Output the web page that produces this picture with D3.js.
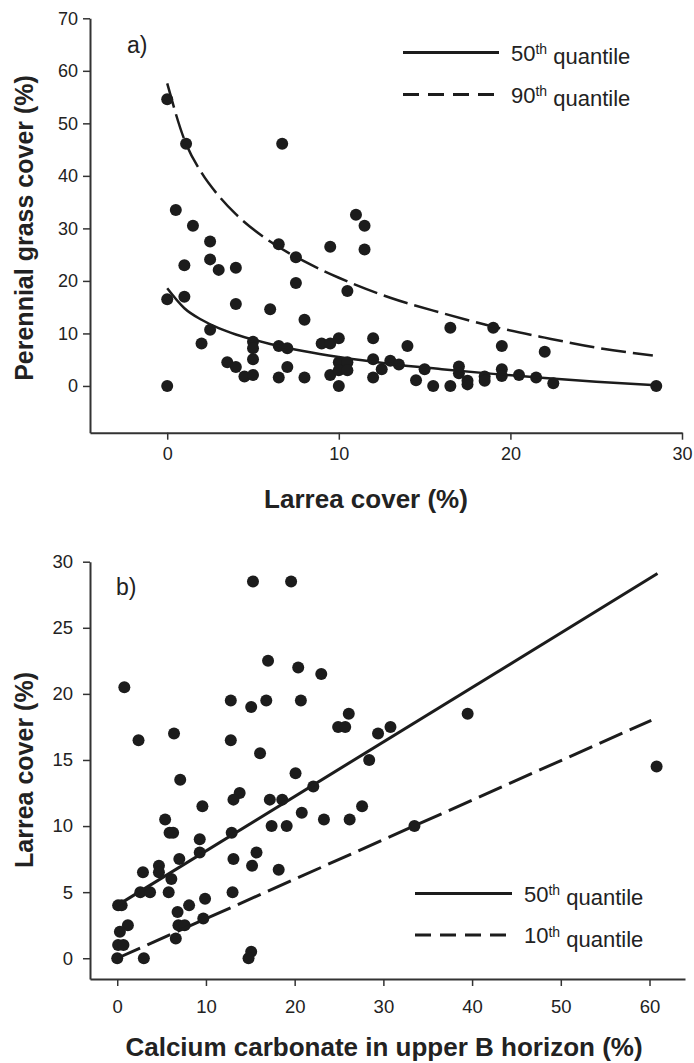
<!DOCTYPE html>
<html>
<head>
<meta charset="utf-8">
<script src="https://cdn.jsdelivr.net/npm/d3@7"></script>
<style>
  body { margin: 0; background: #fff; }
  svg { display: block; font-family: "Liberation Sans", Arial, sans-serif; }
</style>
</head>
<body>
<div id="chart"></div>
<script>
// panel a: Larrea cover vs perennial grass cover
const larreaA = [0, 1.1, 6.7, 0.5, 1.5, 2.5, 1.0, 2.5, 3.0, 4.0, 6.5, 7.5, 9.5, 11, 11.5, 11.5, 7.5, 10.5, 0, 1.0,
  4.0, 6.0, 8.0, 2.5, 2.0, 5.0, 5.0, 5.0, 6.5, 7.0, 9.0, 9.5, 10.0, 12.0, 14.0, 3.5, 4.0, 4.5, 5.0, 7.0,
  6.5, 8.0, 9.5, 10.0, 10.0, 10.5, 10.0, 10.5, 12.0, 12.5, 13.0, 13.5, 12.0, 15.0, 14.5, 15.5, 0, 16.5, 19.0, 19.5,
  22.0, 16.5, 17.0, 17.0, 17.5, 17.5, 18.5, 18.5, 19.5, 19.5, 20.5, 21.5, 22.5, 28.5];
const grassA = [54.6, 46.1, 46.1, 33.5, 30.5, 27.5, 23, 24.1, 22.1, 22.5, 27, 24.5, 26.5, 32.6, 30.5, 26, 19.6, 18.1, 16.5, 17,
  15.6, 14.6, 12.6, 10.7, 8.1, 8.4, 7.2, 5.1, 7.6, 7.2, 8.1, 8.1, 9.1, 9.1, 7.6, 4.5, 3.6, 1.8, 2.1, 3.6,
  1.6, 1.6, 2.1, 0, 4.5, 4.5, 3.0, 3.0, 5.1, 3.2, 4.8, 4.1, 1.6, 3.2, 1.1, 0, 0, 11.1, 11.1, 7.6,
  6.5, 0, 3.7, 2.4, 0.3, 1.0, 1.8, 1.0, 3.2, 1.9, 2.1, 1.6, 0.5, 0];

// quantile curves
const q50xA = [0, 1, 2, 3, 4, 6, 8, 10, 13, 16, 19, 22, 25, 28.5];
const q50yA = [18.6, 14.8, 12.6, 11.0, 9.8, 8.0, 6.6, 5.5, 4.2, 3.2, 2.3, 1.5, 0.8, 0.15];
const q90xA = [0, 1, 2, 3, 4, 6, 8, 10, 13, 16, 19, 22, 25, 28.3];
const q90yA = [57.6, 46.9, 40.6, 36.2, 32.7, 27.5, 23.7, 20.6, 16.8, 13.9, 11.3, 9.2, 7.3, 5.8];

// panel b: calcium carbonate vs Larrea cover
const caco3B = [15.3, 19.6, 0.8, 17.0, 20.4, 23.0, 12.8, 15.1, 16.8, 20.7, 26.1, 24.9, 25.7, 2.4, 6.4, 12.8, 16.1, 7.1, 20.1, 28.4,
  13.8, 13.1, 17.2, 18.6, 22.1, 9.6, 27.6, 20.8, 23.3, 26.2, 5.4, 17.4, 19.1, 5.9, 6.3, 12.9, 9.3, 9.3, 15.7, 7.0,
  13.1, 15.2, 18.2, 2.9, 4.7, 4.7, 6.1, 2.6, 3.7, 5.8, 13.0, 0.1, 0.5, 9.9, 8.1, 6.8, 1.2, 6.9, 7.6, 9.7,
  0.3, 6.6, 0.1, 0.7, 0, 3.0, 15.1, 14.8, 29.4, 30.8, 39.5, 60.8, 33.5];
const larreaB = [28.5, 28.5, 20.5, 22.5, 22.0, 21.5, 19.5, 19.0, 19.5, 19.5, 18.5, 17.5, 17.5, 16.5, 17.0, 16.5, 15.5, 13.5, 14.0, 15.0,
  12.5, 12.0, 12.0, 12.0, 13.0, 11.5, 11.5, 11.0, 10.5, 10.5, 10.5, 10.0, 10.0, 9.5, 9.5, 9.5, 9.0, 8.0, 8.0, 7.5,
  7.5, 7.0, 6.7, 6.5, 7.0, 6.5, 6.0, 5.0, 5.0, 5.0, 5.0, 4.0, 4.0, 4.5, 4.0, 3.5, 2.5, 2.5, 2.5, 3.0,
  2.0, 1.5, 1.0, 1.0, 0, 0, 0.5, 0, 17.0, 17.5, 18.5, 14.5, 10.0];

const q50xB = [0, 60.9];
const q50yB = [4.0, 29.1];
const q10xB = [0, 60.2];
const q10yB = [0, 18.0];

const W = 694, H = 1063;
const ink = "#1c1c1c";

const svg = d3.select("#chart").append("svg")
  .attr("width", W).attr("height", H)
  .attr("viewBox", [0, 0, W, H]);

function zip(xs, ys) { return xs.map((x, i) => ({x: x, y: ys[i]})); }

function drawPanel(p) {
  const x = d3.scaleLinear().domain(p.xDomain).range(p.xRange);
  const y = d3.scaleLinear().domain(p.yDomain).range(p.yRange);
  const g = svg.append("g");

  const xAxis = g.append("g")
    .attr("transform", `translate(0,${p.yRange[0]})`)
    .call(d3.axisBottom(x).tickValues(p.xTicks).tickSize(7).tickSizeOuter(0).tickPadding(p.xPad));
  const yAxis = g.append("g")
    .attr("transform", `translate(${p.xRange[0]},0)`)
    .call(d3.axisLeft(y).tickValues(p.yTicks).tickSize(7).tickSizeOuter(0).tickPadding(p.yPad));
  [xAxis, yAxis].forEach(a => {
    a.select(".domain").attr("stroke", "#333").attr("stroke-width", 2);
    a.selectAll(".tick line").attr("stroke", "#333").attr("stroke-width", 1.5);
    a.selectAll(".tick text").attr("fill", "#222").style("font-size", p.tickFont + "px")
      .style("font-family", "Liberation Sans, Arial, sans-serif");
  });

  // points
  g.append("g").selectAll("circle")
    .data(zip(p.px, p.py))
    .join("circle")
    .attr("cx", d => x(d.x))
    .attr("cy", d => y(d.y))
    .attr("r", 6)
    .attr("fill", ink);

  const line = d3.line().x(d => x(d.x)).y(d => y(d.y)).curve(d3.curveMonotoneX);
  p.lines.forEach(l => {
    g.append("path")
      .attr("d", line(zip(l.xs, l.ys)))
      .attr("fill", "none")
      .attr("stroke", ink)
      .attr("stroke-width", l.width)
      .attr("stroke-dasharray", l.dash);
  });

  // panel letter
  g.append("text").attr("x", p.tag[0]).attr("y", p.tag[1])
    .style("font-size", "23px").attr("fill", "#222").text(p.tagText);

  // legend
  p.legend.forEach((l, i) => {
    const ly = p.legendY[i];
    g.append("line")
      .attr("x1", p.legendX[0]).attr("x2", p.legendX[1])
      .attr("y1", ly).attr("y2", ly)
      .attr("stroke", ink).attr("stroke-width", 3)
      .attr("stroke-dasharray", l.dash);
    const t = g.append("text")
      .attr("x", p.legendX[1] + 12).attr("y", ly + 8)
      .style("font-size", "22px").attr("fill", "#222");
    t.append("tspan").text(l.num);
    t.append("tspan").attr("dy", "-0.45em").style("font-size", "14px").text("th");
    t.append("tspan").attr("dy", "0.45em").text(" quantile");
  });

  // axis titles
  g.append("text")
    .attr("x", p.xTitle[0]).attr("y", p.xTitle[1])
    .attr("text-anchor", "middle")
    .style("font-size", "26px").style("font-weight", "bold").attr("fill", "#222")
    .text(p.xLabel);
  g.append("text")
    .attr("transform", `translate(${p.yTitle[0]},${p.yTitle[1]}) rotate(-90)`)
    .attr("text-anchor", "middle")
    .style("font-size", "25px").style("font-weight", "bold").attr("fill", "#222")
    .text(p.yLabel);
}

drawPanel({
  xDomain: [-4.5, 30], xRange: [90, 682],
  yDomain: [-8.9, 70], yRange: [432.7, 18.3],
  xTicks: [0, 10, 20, 30], yTicks: [0, 10, 20, 30, 40, 50, 60, 70],
  xPad: 8, yPad: 5, tickFont: 18,
  px: larreaA, py: grassA,
  lines: [
    {xs: q50xA, ys: q50yA, width: 2.5, dash: null},
    {xs: q90xA, ys: q90yA, width: 2.5, dash: "25,7"}
  ],
  tag: [127, 53], tagText: "a)",
  legendX: [403, 499], legendY: [52.5, 94.5],
  legend: [{num: "50", dash: null}, {num: "90", dash: "16,9"}],
  xTitle: [366, 508], xLabel: "Larrea cover (%)",
  yTitle: [33, 228], yLabel: "Perennial grass cover (%)"
});

drawPanel({
  xDomain: [-3.07, 64], xRange: [90, 685],
  yDomain: [-1.57, 30], yRange: [979, 561.7],
  xTicks: [0, 10, 20, 30, 40, 50, 60], yTicks: [0, 5, 10, 15, 20, 25, 30],
  xPad: 14, yPad: 10, tickFont: 18.5,
  px: caco3B, py: larreaB,
  lines: [
    {xs: q50xB, ys: q50yB, width: 3, dash: null},
    {xs: q10xB, ys: q10yB, width: 3, dash: "25,8"}
  ],
  tag: [116, 595], tagText: "b)",
  legendX: [415, 512], legendY: [893.5, 935],
  legend: [{num: "50", dash: null}, {num: "10", dash: "16,9"}],
  xTitle: [384, 1056], xLabel: "Calcium carbonate in upper B horizon (%)",
  yTitle: [33, 770], yLabel: "Larrea cover (%)"
});
</script>
</body>
</html>
